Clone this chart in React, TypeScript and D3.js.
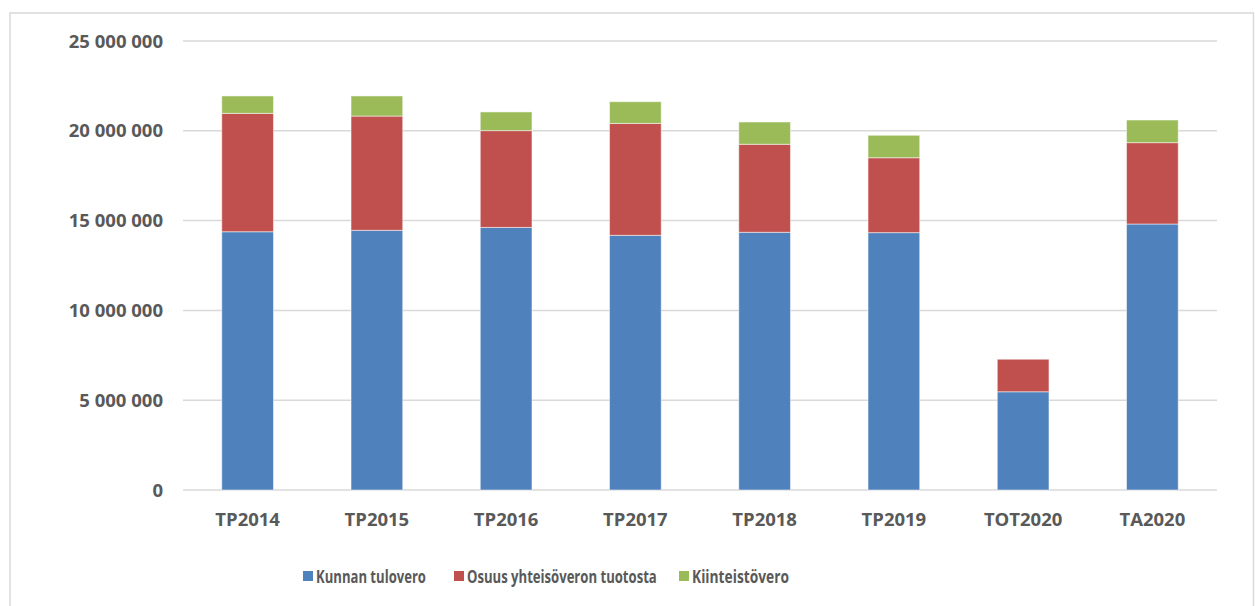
import { useLayoutEffect, useRef, useState } from 'react'
import * as d3 from 'd3'

const categories = ['TP2014', 'TP2015', 'TP2016', 'TP2017', 'TP2018', 'TP2019', 'TOT2020', 'TA2020']
const kunnanTulovero = [14380000, 14460000, 14620000, 14180000, 14350000, 14330000, 5470000, 14810000]
const yhteisovero = [6590000, 6360000, 5390000, 6230000, 4900000, 4170000, 1810000, 4530000]
const kiinteistovero = [970000, 1120000, 1040000, 1210000, 1240000, 1250000, 0, 1260000]
const yTicks = [0, 5000000, 10000000, 15000000, 20000000, 25000000]

const seriesNames = ['Kunnan tulovero', 'Osuus yhteisöveron tuotosta', 'Kiinteistövero']
const seriesColors = ['#4F81BD', '#C0504D', '#9BBB59']

const W = 1255
const H = 606
const margin = { left: 183, right: 38, top: 41, bottom: 116 }
const font = "'Open Sans', 'Liberation Sans', sans-serif"
const textColor = '#595959'
const fs = 18.5

const fmt = (v) => (v === 0 ? '0' : d3.format(',')(v).replace(/,/g, ' '))

// legend positions
const legendItems = [
  { x: 303, w: 110 },
  { x: 454, w: 190 },
  { x: 679, w: 97 }
]

const App = () => {
  const textRefs = useRef([])
  const [scales, setScales] = useState([1, 1, 1])

  useLayoutEffect(() => {
    const s = textRefs.current.map((el, i) => {
      const len = el ? el.getComputedTextLength() : 0
      return len > 0 ? legendItems[i].w / len : 1
    })
    setScales(s)
  }, [])

  const rows = categories.map((c, i) => ({
    cat: c,
    s0: kunnanTulovero[i],
    s1: yhteisovero[i],
    s2: kiinteistovero[i]
  }))
  const stacked = d3.stack().keys(['s0', 's1', 's2'])(rows)

  const x = d3
    .scaleBand()
    .domain(categories)
    .range([margin.left, W - margin.right])
    .paddingInner(0.6)
    .paddingOuter(0.3)
  const y = d3
    .scaleLinear()
    .domain([0, 25000000])
    .range([H - margin.bottom, margin.top])

  return (
    <svg
      width={W}
      height={H}
      style={{ position: 'absolute', left: 0, top: 0, background: '#fff' }}
    >
      <rect x={10} y={13} width={W - 11.5} height={H} fill='#fff' stroke='#d9d9d9' strokeWidth={1.5} />

      {yTicks.map((t) => (
        <g key={t}>
          <line
            x1={margin.left}
            x2={W - margin.right}
            y1={y(t)}
            y2={y(t)}
            stroke='#d9d9d9'
            strokeWidth={1.5}
          />
          <text
            x={163}
            y={y(t)}
            dy='0.36em'
            textAnchor='end'
            fill={textColor}
            fontFamily={font}
            fontWeight='bold'
            fontSize={fs}
          >
            {fmt(t)}
          </text>
        </g>
      ))}

      {stacked.map((layer, si) => (
        <g key={layer.key} fill={seriesColors[si]}>
          {layer.map((d, i) =>
            d[1] - d[0] > 0 ? (
              <rect
                key={i}
                x={x(categories[i])}
                y={y(d[1])}
                width={x.bandwidth()}
                height={y(d[0]) - y(d[1])}
                stroke='#ffffff'
                strokeOpacity={0.5}
                strokeWidth={1}
              />
            ) : null
          )}
        </g>
      ))}

      {categories.map((c) => (
        <text
          key={c}
          x={x(c) + x.bandwidth() / 2}
          y={519}
          dy='0.36em'
          textAnchor='middle'
          fill={textColor}
          fontFamily={font}
          fontWeight='bold'
          fontSize={fs}
        >
          {c}
        </text>
      ))}

      {seriesNames.map((n, i) => (
        <g key={n}>
          <rect x={legendItems[i].x} y={571} width={10} height={10} fill={seriesColors[i]} />
          <text
            ref={(el) => (textRefs.current[i] = el)}
            transform={`translate(${legendItems[i].x + 13},576) scale(${scales[i]},1)`}
            dy='0.36em'
            fill={textColor}
            fontFamily={font}
            fontWeight='bold'
            fontSize={fs}
          >
            {n}
          </text>
        </g>
      ))}
    </svg>
  )
}

export default App
